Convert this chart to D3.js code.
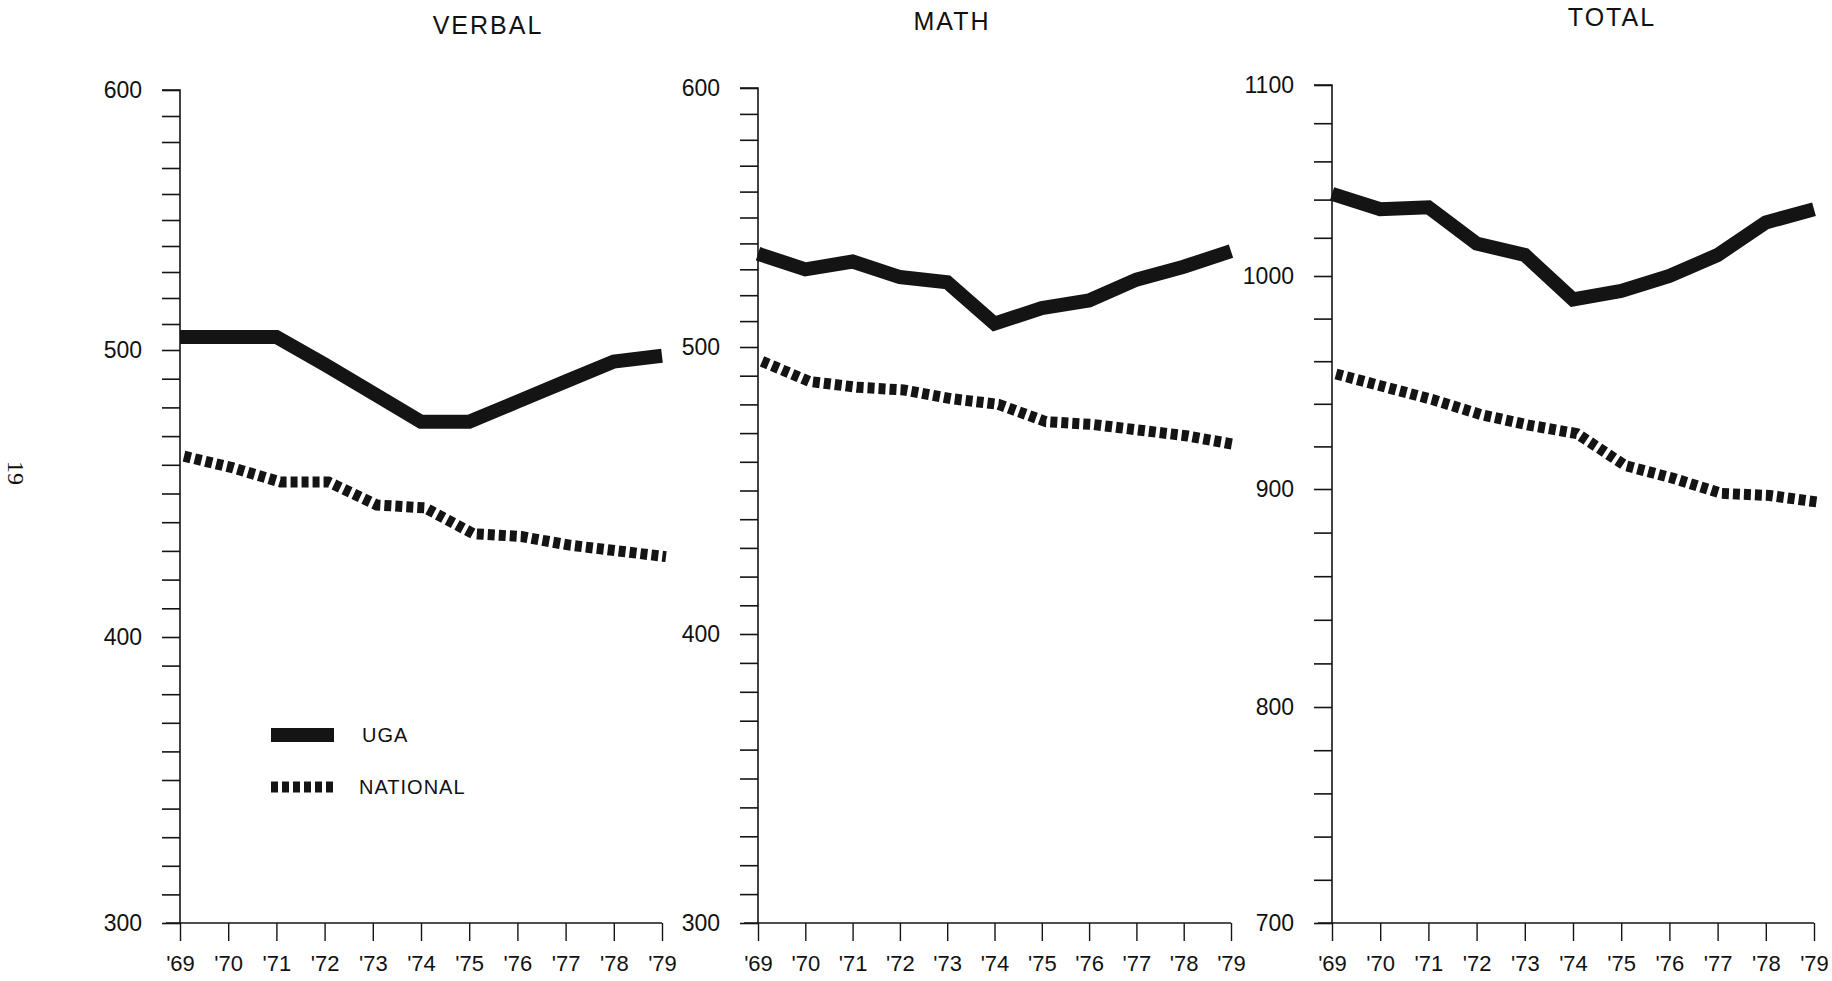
<!DOCTYPE html>
<html>
<head>
<meta charset="utf-8">
<script src="https://cdn.jsdelivr.net/npm/d3@7"></script>
<style>
  html, body { margin: 0; padding: 0; background: #fff; }
  svg { display: block; }
  text { font-family: "Liberation Sans", Arial, Helvetica, sans-serif; fill: #111; }
</style>
</head>
<body>
<svg id="chart" width="1832" height="981"></svg>
<script>
// ---- data ----
const years = ["'69", "'70", "'71", "'72", "'73", "'74", "'75", "'76", "'77", "'78", "'79"];
const seriesNames = ["UGA", "NATIONAL"];

const verbalUGA      = [505, 505, 505, 495, 485, 475, 475, 482, 489, 496, 498];
const verbalNational = [463, 459, 454, 454, 446, 445, 436, 435, 432, 430, 428];

const mathUGA        = [536, 530, 533, 527, 525, 509, 515, 518, 526, 531, 537];
const mathNational   = [495, 488, 486, 485, 482, 480, 474, 473, 471, 469, 466];

const totalUGA       = [1043, 1035, 1036, 1017, 1011, 989, 993, 1000, 1011, 1028, 1035];
const totalNational  = [954, 948, 942, 935, 930, 926, 911, 905, 898, 897, 894];

const verbalTicks = [300, 400, 500, 600];
const mathTicks   = [300, 400, 500, 600];
const totalTicks  = [700, 800, 900, 1000, 1100];

// ---- layout ----
const svg = d3.select("#chart");
// the printed axes are slightly uneven, so each panel's y scale is piecewise linear
const panels = [
  { title: "VERBAL", uga: verbalUGA, nat: verbalNational, ticks: verbalTicks, minor: 10,
    x0: 180, x1: 662, yPos: [923, 637, 350, 90], titleX: 488, titleY: 34, legend: true },
  { title: "MATH", uga: mathUGA, nat: mathNational, ticks: mathTicks, minor: 10,
    x0: 758, x1: 1231, yPos: [923, 634, 347, 88], titleX: 952, titleY: 30, legend: false },
  { title: "TOTAL", uga: totalUGA, nat: totalNational, ticks: totalTicks, minor: 20,
    x0: 1332, x1: 1814, yPos: [923, 707, 489, 276, 85], titleX: 1612, titleY: 26, legend: false }
];

const INK = "#141414";

panels.forEach(p => {
  const g = svg.append("g");
  const lo = d3.min(p.ticks), hi = d3.max(p.ticks);
  const y = d3.scaleLinear().domain(p.ticks).range(p.yPos);
  const yTop = y(hi), yBot = y(lo);
  const x = d3.scalePoint().domain(years).range([p.x0, p.x1]);

  // title
  g.append("text")
    .attr("x", p.titleX).attr("y", p.titleY)
    .attr("text-anchor", "middle")
    .style("font-size", "25px")
    .style("letter-spacing", "2px")
    .text(p.title);

  // y axis with minor ticks
  const minorVals = d3.range(lo, hi + 0.001, p.minor);
  const yAxis = d3.axisLeft(y)
    .tickValues(minorVals)
    .tickSize(18)
    .tickPadding(20)
    .tickFormat(d => p.ticks.includes(d) ? d : "");
  const ya = g.append("g").attr("transform", `translate(${p.x0},0)`).call(yAxis);
  ya.select(".domain").attr("stroke", INK).attr("stroke-width", 1.6).attr("d", `M-18,${yTop}H0V${yBot}`);
  ya.selectAll(".tick line").attr("stroke", INK).attr("stroke-width", 1.6);
  ya.selectAll(".tick text")
    .style("font-size", "23px")
    .style("font-family", "'Liberation Sans', Arial, sans-serif")
    .attr("fill", "#111");

  // x axis
  const xAxis = d3.axisBottom(x).tickSize(18).tickPadding(14);
  const xa = g.append("g").attr("transform", `translate(0,${yBot})`).call(xAxis);
  xa.select(".domain").attr("stroke", INK).attr("stroke-width", 1.6).attr("d", `M${p.x0 - 14},0H${p.x1}`);
  xa.selectAll(".tick line").attr("stroke", INK).attr("stroke-width", 1.4);
  xa.selectAll(".tick text")
    .style("font-size", "22px")
    .style("font-family", "'Liberation Sans', Arial, sans-serif")
    .attr("fill", "#111");

  const line = d3.line()
    .x((d, i) => x(years[i]))
    .y(d => y(d));

  // national (dashed)
  g.append("path")
    .datum(p.nat)
    .attr("d", line)
    .attr("fill", "none")
    .attr("stroke", INK)
    .attr("stroke-width", 11)
    .attr("stroke-dasharray", "7,4")
    .attr("transform", "translate(4,0)");

  // UGA (solid, heavy)
  g.append("path")
    .datum(p.uga)
    .attr("d", line)
    .attr("fill", "none")
    .attr("stroke", INK)
    .attr("stroke-width", 14)
    .attr("stroke-linejoin", "miter");

  if (p.legend) {
    const lg = g.append("g");
    const items = [
      { name: seriesNames[0], dash: null, y: 735, tx: 362 },
      { name: seriesNames[1], dash: "7,4", y: 787, tx: 359 }
    ];
    items.forEach(it => {
      lg.append("line")
        .attr("x1", 271).attr("x2", 334)
        .attr("y1", it.y).attr("y2", it.y)
        .attr("stroke", INK)
        .attr("stroke-width", it.dash ? 11 : 14)
        .attr("stroke-dasharray", it.dash);
      lg.append("text")
        .attr("x", it.tx).attr("y", it.y)
        .attr("dy", "0.35em")
        .style("font-size", "20px")
        .style("letter-spacing", "1px")
        .text(it.name);
    });
  }
});

// page number, rotated
svg.append("text")
  .attr("transform", "translate(8,473) rotate(90)")
  .attr("text-anchor", "middle")
  .style("font-family", "'Liberation Serif', 'DejaVu Serif', serif")
  .style("font-size", "24px")
  .attr("fill", "#333")
  .text("19");
</script>
</body>
</html>
